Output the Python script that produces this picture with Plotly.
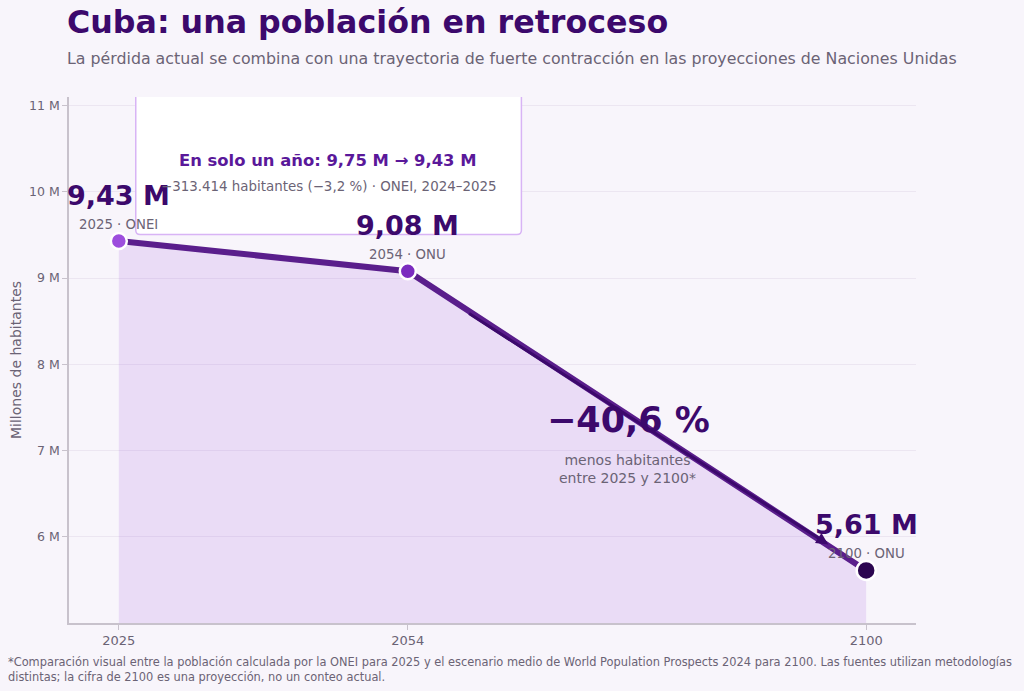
import plotly.graph_objects as go

# Data
years = [2025, 2054, 2100]
population = [9.43, 9.08, 5.61]  # millions
value_labels = ["9,43 M", "9,08 M", "5,61 M"]
source_labels = ["2025 · ONEI", "2054 · ONU", "2100 · ONU"]
marker_colors = ["#9d4edd", "#7b2cbf", "#2c0650"]
marker_sizes = [16, 16, 19]
ytick_vals = [6, 7, 8, 9, 10, 11]
ytick_text = ["6 M", "7 M", "8 M", "9 M", "10 M", "11 M"]

FONT = "DejaVu Sans"
DARK = "#3c096c"
GRAY = "#6b6375"
BG = "#f8f5fb"

fig = go.Figure()

fig.add_trace(go.Scatter(
    x=years, y=population, mode="lines",
    line=dict(color="#5a1e8c", width=6),
    fill="tozeroy", fillcolor="rgba(157,78,221,0.15)",
    hoverinfo="skip", showlegend=False,
))
fig.add_trace(go.Scatter(
    x=years, y=population, mode="markers",
    marker=dict(color=marker_colors, size=marker_sizes, opacity=1,
                line=dict(color="white", width=2.5)),
    hoverinfo="skip", showlegend=False,
))

# Rounded box (clipped at top by plot area)
x0, x1, y0, y1 = 2026.7, 2065.4, 9.505, 11.6
rx, ry = 0.45, 0.05
path = (f"M {x0},{y1} L {x0},{y0+ry} Q {x0},{y0} {x0+rx},{y0} "
        f"L {x1-rx},{y0} Q {x1},{y0} {x1},{y0+ry} L {x1},{y1} Z")
fig.add_shape(type="path", path=path, xref="x", yref="y",
              fillcolor="white", line=dict(color="#d8b4f5", width=1.5),
              layer="above")

annotations = []
for xv, yv, vl, sl in zip(years, population, value_labels, source_labels):
    annotations.append(dict(x=xv, y=yv, xref="x", yref="y", text=f"<b>{vl}</b>",
                            showarrow=False, yshift=46,
                            font=dict(family=FONT, size=27, color=DARK)))
    annotations.append(dict(x=xv, y=yv, xref="x", yref="y", text=sl,
                            showarrow=False, yshift=17,
                            font=dict(family=FONT, size=13.3, color=GRAY)))

annotations += [
    dict(x=2046.0, y=10.363, xref="x", yref="y",
         text="<b>En solo un año: 9,75 M → 9,43 M</b>", showarrow=False,
         font=dict(family=FONT, size=16.4, color="#5a189a")),
    dict(x=2046.0, y=10.061, xref="x", yref="y",
         text="−313.414 habitantes (−3,2 %) · ONEI, 2024–2025", showarrow=False,
         font=dict(family=FONT, size=13.4, color=GRAY)),
    dict(x=2076.1, y=7.36, xref="x", yref="y", text="<b>−40,6 %</b>",
         showarrow=False, font=dict(family=FONT, size=35, color=DARK)),
    dict(x=2076.0, y=6.79, xref="x", yref="y",
         text="menos habitantes<br>entre 2025 y 2100*", showarrow=False,
         font=dict(family=FONT, size=14, color=GRAY)),
    dict(x=2096.2, y=5.91, xref="x", yref="y", ax=2060.0, ay=8.60,
         axref="x", ayref="y", text="", showarrow=True, arrowhead=2,
         arrowsize=0.8, arrowwidth=3, arrowcolor=DARK),
    dict(x=0, y=1.1426, xref="paper", yref="paper", xanchor="left", yanchor="middle",
         xshift=-4, text="<b>Cuba: una población en retroceso</b>", showarrow=False,
         font=dict(family=FONT, size=31.7, color=DARK)),
    dict(x=0, y=1.0741, xref="paper", yref="paper", xanchor="left", yanchor="middle",
         xshift=-4,
         text="La pérdida actual se combina con una trayectoria de fuerte contracción en las proyecciones de Naciones Unidas",
         showarrow=False, font=dict(family=FONT, size=15.8, color=GRAY)),
    dict(x=-0.0697, y=-0.0875, xref="paper", yref="paper", xanchor="left", yanchor="middle",
         align="left", xshift=-4,
         text="*Comparación visual entre la población calculada por la ONEI para 2025 y el escenario medio de World Population Prospects 2024 para 2100. Las fuentes utilizan metodologías<br>distintas; la cifra de 2100 es una proyección, no un conteo actual.",
         showarrow=False, font=dict(family=FONT, size=11.4, color=GRAY)),
]

fig.update_layout(
    width=1024, height=691,
    margin=dict(l=69, r=108, t=97, b=68),
    paper_bgcolor=BG, plot_bgcolor=BG,
    font=dict(family=FONT, size=12, color=GRAY),
    annotations=annotations,
    showlegend=False,
    hovermode=False,
    xaxis=dict(range=[2020, 2105], tickvals=years, ticktext=[str(y) for y in years],
               showgrid=False, zeroline=False, showline=True, linecolor="#c8c2cc",
               linewidth=1.5, ticks="outside", ticklen=5, tickcolor="#c8c2cc",
               tickfont=dict(size=13, color=GRAY), automargin=False),
    yaxis=dict(range=[5, 11.1], tickvals=ytick_vals, ticktext=ytick_text,
               showgrid=True, gridcolor="#ece6f1", zeroline=False, showline=True,
               linecolor="#c8c2cc", linewidth=1.5, ticks="outside", ticklen=5,
               tickcolor="#c8c2cc", tickfont=dict(size=12.5, color=GRAY),
               automargin=False,
               title=dict(text="Millones de habitantes", standoff=4,
                          font=dict(size=14, color=GRAY))),
)

fig.write_html(
    "out.html",
    config={"displayModeBar": False},
    post_script="document.body.style.margin='0';document.body.style.background='%s';" % BG,
)
